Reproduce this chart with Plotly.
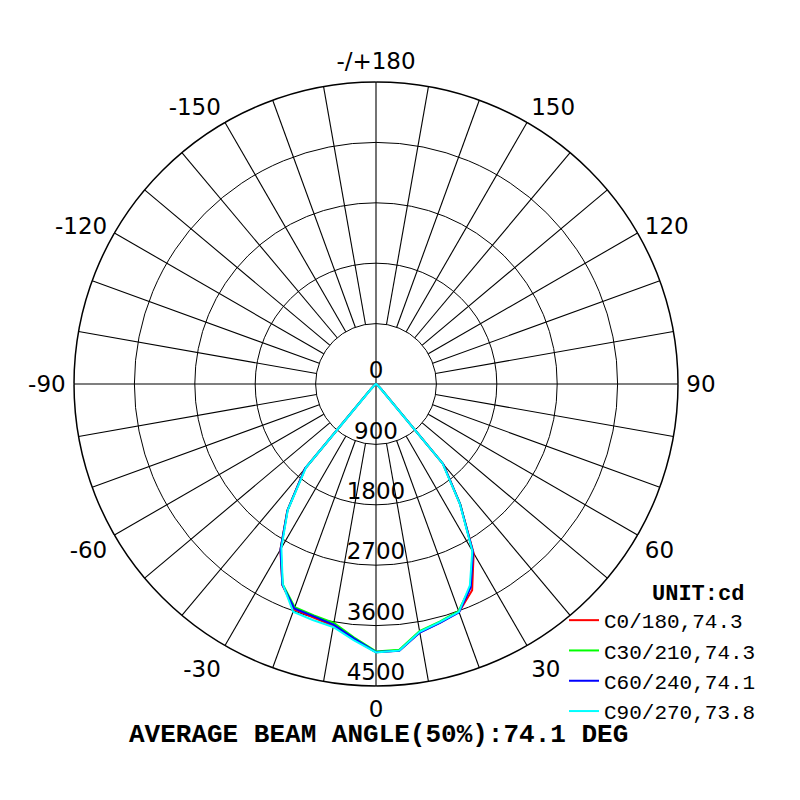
import plotly.graph_objects as go

# gamma angles (deg) for each half plane
gamma = [0, 5, 10, 15, 20, 25, 30, 35, 40, 45, 50, 55, 60, 65, 70, 75, 80, 85, 90]

# luminous intensity (cd)
c0 = [3995, 3985, 3756, 3680, 3616, 3390, 2910, 2183, 1560, 110, 40, 20, 12, 8, 5, 3, 2, 1, 0]
c180 = [3995, 3815, 3660, 3602, 3570, 3303, 2849, 2305, 1650, 110, 40, 20, 12, 8, 5, 3, 2, 1, 0]
c30 = [3985, 3975, 3740, 3665, 3600, 3330, 2880, 2190, 1550, 105, 38, 18, 11, 7, 4, 3, 2, 1, 0]
c210 = [3985, 3790, 3615, 3570, 3540, 3290, 2840, 2300, 1640, 105, 38, 18, 11, 7, 4, 3, 2, 1, 0]
c60 = [3995, 3990, 3760, 3685, 3620, 3340, 2890, 2185, 1555, 108, 39, 19, 11, 7, 4, 3, 2, 1, 0]
c240 = [3995, 3805, 3640, 3585, 3558, 3300, 2845, 2300, 1645, 108, 39, 19, 11, 7, 4, 3, 2, 1, 0]
c90 = [4000, 3985, 3750, 3675, 3612, 3310, 2870, 2175, 1540, 100, 35, 18, 10, 6, 4, 3, 2, 1, 0]
c270 = [4000, 3830, 3677, 3640, 3611, 3290, 2819, 2290, 1620, 100, 35, 18, 10, 6, 4, 3, 2, 1, 0]

names = ["C0/180,74.3", "C30/210,74.3", "C60/240,74.1", "C90/270,73.8"]
colors = ["#ff0000", "#00ff00", "#0000ff", "#00ffff"]
planes = [(c0, c180), (c30, c210), (c60, c240), (c90, c270)]

radial_ticks = [0, 900, 1800, 2700, 3600, 4500]
angle_ticks = [0, 30, 60, 90, 120, 150, 180, 210, 240, 270, 300, 330]
angle_labels = ["0", "30", "60", "90", "120", "150", "-/+180",
                "-150", "-120", "-90", "-60", "-30"]

fig = go.Figure()

# spokes every 10 deg, starting at the first ring (main axes go through centre)
sp_r, sp_t = [], []
for a in range(0, 360, 10):
    start = 0 if a % 90 == 0 else radial_ticks[1]
    sp_r += [start, radial_ticks[-1], None]
    sp_t += [a, a, None]
fig.add_trace(go.Scatterpolar(r=sp_r, theta=sp_t, mode="lines",
                              line=dict(color="black", width=1.1),
                              showlegend=False, hoverinfo="skip"))

for (right, left), name, col in zip(planes, names, colors):
    theta = [-g for g in gamma[::-1]] + gamma[1:]
    r = left[::-1] + right[1:]
    fig.add_trace(go.Scatterpolar(r=r, theta=theta, mode="lines", name=name,
                                  line=dict(color=col, width=2)))

# radial value labels along the 0 deg direction
fig.add_trace(go.Scatterpolar(r=radial_ticks, theta=[0] * len(radial_ticks),
                              mode="text", text=[str(v) for v in radial_ticks],
                              textposition="top center",
                              textfont=dict(family="DejaVu Sans", size=23, color="black"),
                              showlegend=False, hoverinfo="skip"))

fig.update_layout(
    width=800, height=800,
    margin=dict(l=0, r=0, t=0, b=0, autoexpand=False),
    paper_bgcolor="white",
    polar=dict(
        domain=dict(x=[0.0825, 0.8375], y=[0.1525, 0.9075]),
        bgcolor="white",
        angularaxis=dict(rotation=-90, direction="counterclockwise",
                         tickmode="array", tickvals=angle_ticks, ticktext=angle_labels,
                         showgrid=False, showline=True, linecolor="black", linewidth=1.5,
                         ticks="outside", ticklen=3, tickcolor="white",
                         tickfont=dict(family="DejaVu Sans", size=23, color="black")),
        radialaxis=dict(range=[0, 4500], tickmode="array", tickvals=radial_ticks[1:],
                        showticklabels=False, showline=False, ticks="",
                        gridcolor="black", gridwidth=1.1),
    ),
    legend=dict(x=0.695, y=0.26, xanchor="left", yanchor="top",
                bgcolor="rgba(0,0,0,0)",
                font=dict(family="Liberation Mono", size=21, color="black")),
    annotations=[
        dict(text="<b>UNIT:cd</b>", xref="paper", yref="paper", x=0.8625, y=0.267,
             xanchor="center", yanchor="middle", showarrow=False,
             font=dict(family="Liberation Mono", size=22, color="black")),
        dict(text="<b>AVERAGE BEAM ANGLE(50%):74.1 DEG</b>",
             xref="paper", yref="paper", x=0.4625, y=0.091,
             xanchor="center", yanchor="middle", showarrow=False,
             font=dict(family="Liberation Mono", size=26, color="black")),
    ],
)

fig.write_html("out.html")
